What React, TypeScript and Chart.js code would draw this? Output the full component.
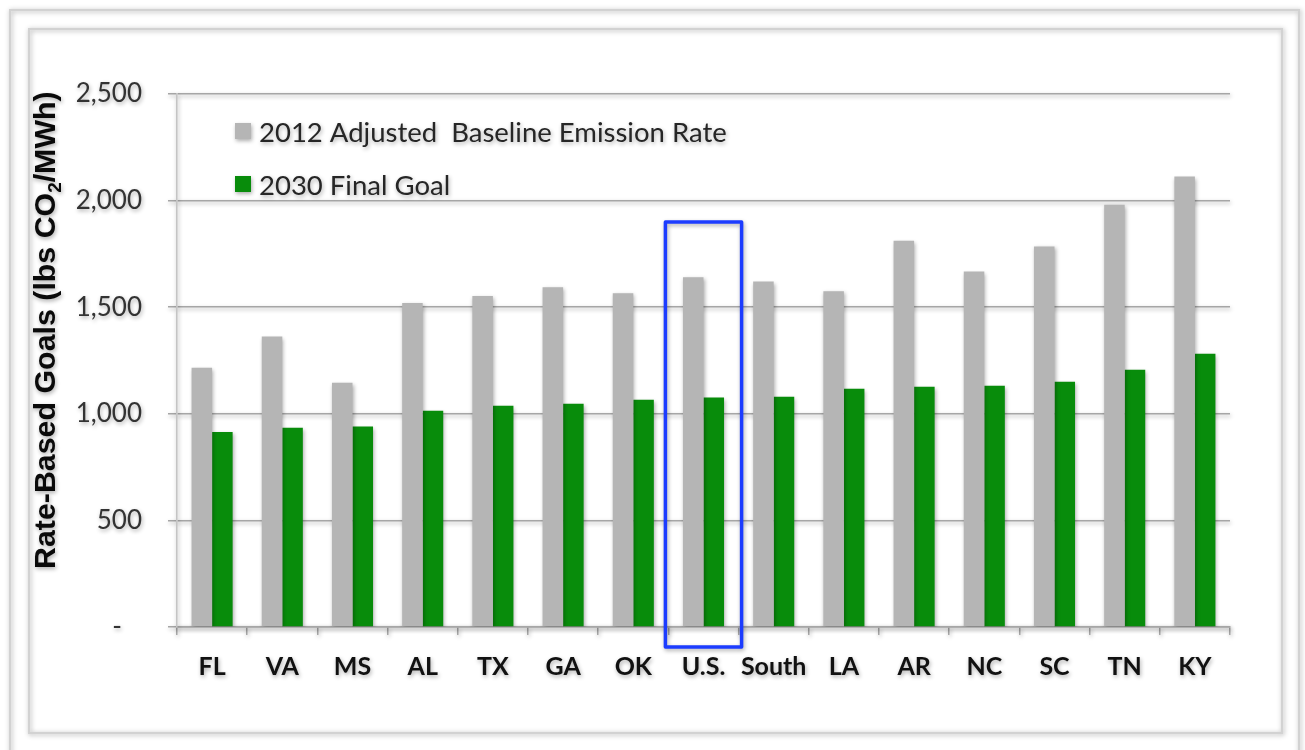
import { useEffect, useRef } from "react";
import { Chart, registerables } from "chart.js";

Chart.register(...registerables);

// States (plus U.S. and South averages) along the category axis
const categories = ["FL", "VA", "MS", "AL", "TX", "GA", "OK", "U.S.", "South", "LA", "AR", "NC", "SC", "TN", "KY"];

// lbs CO2 / MWh
const baseline2012 = [1216, 1362, 1146, 1520, 1552, 1593, 1565, 1640, 1620, 1575, 1812, 1667, 1785, 1981, 2113];
const goal2030 = [915, 934, 940, 1014, 1038, 1047, 1066, 1076, 1080, 1117, 1127, 1131, 1150, 1207, 1282];

const seriesLabels = ["2012 Adjusted  Baseline Emission Rate", "2030 Final Goal"];
const seriesColors = ["#b5b5b5", "#088c0b"];

const yTickValues = [0, 500, 1000, 1500, 2000, 2500];
const yTitleParts = ["Rate-Based Goals (lbs CO", "2", "/MWh)"];

// Category outlined with a box, and the value the box reaches up to
const highlightCategory = "U.S.";
const highlightTopValue = 1900;

const W = 1305;
const H = 750;

const SHADOW = "rgba(0,0,0,0.32)";

const decorPlugin = {
  id: "decor",
  beforeDraw(chart: any) {
    const ctx: CanvasRenderingContext2D = chart.ctx;
    ctx.save();
    ctx.fillStyle = "#ffffff";
    ctx.fillRect(0, 0, chart.width, chart.height);
    ctx.shadowColor = "rgba(0,0,0,0.35)";
    ctx.shadowBlur = 5;
    ctx.shadowOffsetX = 1;
    ctx.shadowOffsetY = 1;
    ctx.strokeStyle = "#d2d2d2";
    ctx.lineWidth = 2;
    ctx.strokeRect(10, 10, 1289, 760);
    ctx.strokeRect(29, 29, 1253, 704);
    ctx.restore();
    // soft drop shadow on everything Chart.js paints next
    ctx.save();
    ctx.shadowColor = SHADOW;
    ctx.shadowBlur = 4;
    ctx.shadowOffsetX = 1;
    ctx.shadowOffsetY = 2;
  },
  afterDraw(chart: any) {
    const ctx: CanvasRenderingContext2D = chart.ctx;
    const x = chart.scales.x;
    const y = chart.scales.y;

    // highlight box around one category
    const idx = categories.indexOf(highlightCategory);
    const cx = x.getPixelForValue(idx);
    const half = (x.width / categories.length) / 2 + 3;
    const top = y.getPixelForValue(highlightTopValue);
    const bottom = chart.chartArea.bottom + 20;
    ctx.save();
    ctx.strokeStyle = "#1c3cff";
    ctx.lineWidth = 3.5;
    ctx.lineJoin = "round";
    ctx.strokeRect(cx - half, top, half * 2, bottom - top);
    ctx.restore();

    // legend inside the plot area
    ctx.save();
    const legendFamily = "Lato, 'Open Sans', sans-serif";
    ctx.font = `24px ${legendFamily}`;
    const w0 = ctx.measureText(seriesLabels[0]).width;
    const size = (24 * 468) / w0;
    ctx.font = `${size.toFixed(2)}px ${legendFamily}`;
    ctx.textBaseline = "alphabetic";
    ctx.textAlign = "left";
    const rows = [142, 195];
    chart.data.datasets.forEach((ds: any, i: number) => {
      ctx.fillStyle = ds.backgroundColor;
      ctx.fillRect(235, rows[i] - 19, 16, 16);
      ctx.fillStyle = "#262626";
      ctx.fillText(ds.label, 259, rows[i]);
    });
    ctx.restore();

    // rotated y-axis title with subscript
    ctx.save();
    ctx.translate(55, 330);
    ctx.rotate(-Math.PI / 2);
    ctx.fillStyle = "#0a0a0a";
    ctx.textBaseline = "alphabetic";
    ctx.textAlign = "left";
    const fam = "'Liberation Sans', Arial, sans-serif";
    const measure = (fs: number) => {
      ctx.font = `bold ${fs}px ${fam}`;
      const a = ctx.measureText(yTitleParts[0]).width;
      const c = ctx.measureText(yTitleParts[2]).width;
      ctx.font = `bold ${fs * 0.62}px ${fam}`;
      const b = ctx.measureText(yTitleParts[1]).width;
      return [a, b, c];
    };
    const base = measure(24);
    const total24 = base[0] + base[1] + base[2];
    const fs = (24 * 478) / total24;
    const [a, b] = measure(fs);
    const total = (total24 * fs) / 24;
    let px = -total / 2;
    ctx.font = `bold ${fs}px ${fam}`;
    ctx.fillText(yTitleParts[0], px, 0);
    px += a;
    ctx.font = `bold ${fs * 0.62}px ${fam}`;
    ctx.fillText(yTitleParts[1], px, fs * 0.2);
    px += b;
    ctx.font = `bold ${fs}px ${fam}`;
    ctx.fillText(yTitleParts[2], px, 0);
    ctx.restore();

    // matches the save() from beforeDraw
    ctx.restore();
  },
};

export default function App() {
  const canvasRef = useRef<HTMLCanvasElement | null>(null);

  useEffect(() => {
    const canvas = canvasRef.current;
    if (!canvas) return;
    const chart = new Chart(canvas, {
      type: "bar",
      data: {
        labels: categories,
        datasets: [
          {
            label: seriesLabels[0],
            data: baseline2012,
            backgroundColor: seriesColors[0],
            borderWidth: 0,
            categoryPercentage: 0.585,
            barPercentage: 1.0,
          },
          {
            label: seriesLabels[1],
            data: goal2030,
            backgroundColor: seriesColors[1],
            borderWidth: 0,
            categoryPercentage: 0.585,
            barPercentage: 1.0,
          },
        ],
      },
      options: {
        responsive: false,
        animation: false,
        devicePixelRatio: 1,
        layout: { padding: { top: 94, right: 75, left: 0, bottom: 0 } },
        plugins: {
          legend: { display: false },
          tooltip: { enabled: false },
          title: { display: false },
        },
        scales: {
          x: {
            grid: {
              offset: true,
              drawOnChartArea: false,
              drawTicks: true,
              tickLength: 8,
              color: "#a6a6a6",
              lineWidth: 1.5,
            },
            border: { display: true, color: "#a6a6a6", width: 1.5 },
            ticks: {
              padding: 17,
              color: "#111111",
              font: { family: "Lato, 'Open Sans', sans-serif", size: 25, weight: "bold" },
              maxRotation: 0,
              autoSkip: false,
            },
            afterFit(scale: any) {
              scale.height = 123;
            },
          },
          y: {
            min: 0,
            max: 2500,
            afterBuildTicks(scale: any) {
              scale.ticks = yTickValues.map((v) => ({ value: v }));
            },
            grid: {
              color: "#a6a6a6",
              lineWidth: 1.5,
              drawTicks: true,
              tickLength: 9,
            },
            border: { display: true, color: "#c4c4c4", width: 1.5 },
            ticks: {
              padding: 26,
              color: "#333333",
              font: { family: "Lato, 'Open Sans', sans-serif", size: 26 },
              callback: (v: any) => (Number(v) === 0 ? "-   " : Number(v).toLocaleString("en-US")),
            },
            afterFit(scale: any) {
              scale.width = 177;
            },
          },
        },
      },
      plugins: [decorPlugin],
    });
    return () => chart.destroy();
  }, []);

  return (
    <div style={{ position: "fixed", left: 0, top: 0, width: W, height: H, background: "#ffffff" }}>
      <canvas ref={canvasRef} width={W} height={H} style={{ display: "block", width: W, height: H }} />
    </div>
  );
}
